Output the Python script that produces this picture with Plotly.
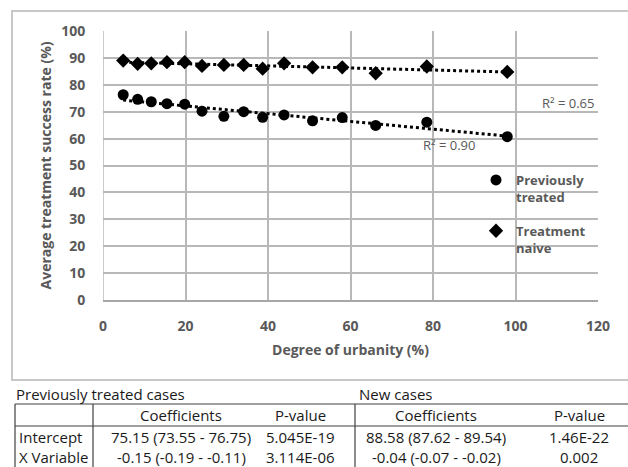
import numpy as np
import plotly.graph_objects as go

# ---------------- data ----------------
urbanity = [4.9, 8.4, 11.7, 15.5, 19.8, 24.0, 29.3, 34.1, 38.7, 43.9, 50.8, 58.0, 66.1, 78.5, 98.0]
prev_treated = [76.3, 74.6, 73.7, 73.0, 72.8, 70.2, 68.3, 70.0, 67.9, 68.8, 66.6, 67.8, 64.9, 66.1, 60.7]
treat_naive = [89.0, 87.8, 88.0, 88.4, 88.4, 87.0, 87.4, 87.4, 86.0, 88.0, 86.5, 86.5, 84.3, 86.8, 84.8]
series_names = ["Previously<br>treated", "Treatment<br>naive"]
r2_labels = ["R² = 0.90", "R² = 0.65"]

table_titles = ["Previously treated cases", "New cases"]
table_header = ["", "Coefficients", "P-value", "Coefficients", "P-value"]
row_labels = ["Intercept", "X Variable"]
prev_coef = ["75.15 (73.55 - 76.75)", "-0.15 (-0.19 - -0.11)"]
prev_p = ["5.045E-19", "3.114E-06"]
new_coef = ["88.58 (87.62 - 89.54)", "-0.04 (-0.07 - -0.02)"]
new_p = ["1.46E-22", "0.002"]

# ---------------- layout geometry ----------------
W, H = 628, 467
ML, MR, MT, MB = 103, 30, 31, 167
PW, PH = W - ML - MR, H - MT - MB


def px_x(px):
    return (px - ML) / PW


def px_y(py):
    return (H - MB - py) / PH


GRAY = "#595959"
GRID = "#b8b8b8"
FONT = "Open Sans"

fig = go.Figure()

x_arr = np.array(urbanity)
for ys, sym, name in [(prev_treated, "circle", series_names[0]),
                      (treat_naive, "diamond", series_names[1])]:
    slope, intercept = np.polyfit(x_arr, np.array(ys), 1)
    xs = [x_arr.min(), x_arr.max()]
    fig.add_trace(go.Scatter(
        x=xs, y=[intercept + slope * v for v in xs], mode="lines",
        line=dict(color="black", width=3, dash="dot"),
        showlegend=False, hoverinfo="skip"))
    fig.add_trace(go.Scatter(
        x=urbanity, y=ys, mode="markers", name=name,
        legendgroup=name,
        marker=dict(symbol=sym, color="black", size=11,
                    line=dict(width=0))))

# R² labels
fig.add_annotation(x=83.8, y=57.6, text=r2_labels[0], showarrow=False,
                   xanchor="center", yanchor="middle",
                   font=dict(family=FONT, size=13, color=GRAY))
fig.add_annotation(x=112.8, y=73.2, text=r2_labels[1], showarrow=False,
                   xanchor="center", yanchor="middle",
                   font=dict(family=FONT, size=13, color=GRAY))

fig.update_xaxes(range=[0, 120], dtick=20, tick0=0,
                 showgrid=True, gridcolor=GRID, gridwidth=1.5,
                 zeroline=False, showline=True, linecolor="#a6a6a6", linewidth=1.5,
                 ticks="outside", ticklen=12, tickcolor="rgba(0,0,0,0)",
                 tickfont=dict(family=FONT, size=14, color=GRAY, weight="bold"),
                 title=dict(text="Degree of urbanity (%)", standoff=12,
                            font=dict(family=FONT, size=14, color=GRAY, weight="bold")))
fig.update_yaxes(range=[0, 100], dtick=10, tick0=0,
                 showgrid=True, gridcolor=GRID, gridwidth=1.5,
                 zeroline=False, showline=False,
                 ticks="outside", ticklen=14, tickcolor="rgba(0,0,0,0)",
                 tickfont=dict(family=FONT, size=14, color=GRAY, weight="bold"),
                 title=dict(text="Average treatment success rate (%)", standoff=6,
                            font=dict(family=FONT, size=14, color=GRAY, weight="bold")))

# vertical gridline at 0
fig.add_shape(type="line", xref="x", yref="y", x0=0, x1=0, y0=0, y1=100,
              line=dict(color=GRID, width=1.5))

# chart outer frame
fig.add_shape(type="rect", xref="paper", yref="paper",
              x0=px_x(12), x1=px_x(640), y0=px_y(380), y1=px_y(11),
              line=dict(color="#c8c8c8", width=2))

# ---------------- table ----------------
TLINE = dict(color="#404040", width=1.2)
fig.add_shape(type="line", xref="paper", yref="paper", x0=px_x(15), x1=px_x(640),
              y0=px_y(404), y1=px_y(404), line=TLINE)
fig.add_shape(type="line", xref="paper", yref="paper", x0=px_x(15), x1=px_x(640),
              y0=px_y(426), y1=px_y(426), line=TLINE)
for vx in [15, 93, 355]:
    fig.add_shape(type="line", xref="paper", yref="paper", x0=px_x(vx), x1=px_x(vx),
                  y0=px_y(404), y1=px_y(475), line=TLINE)

TFONT = dict(family=FONT, size=15, color="#1a1a1a")


def cell(px, py, text, anchor="center"):
    fig.add_annotation(xref="paper", yref="paper", x=px_x(px), y=px_y(py), text=text,
                       xanchor=anchor, yanchor="middle", showarrow=False, font=TFONT)


cell(14, 394, table_titles[0], "left")
cell(357, 394, table_titles[1], "left")

col_centers = [17, 181, 300, 436, 579]
header_y = 415
row_ys = [437, 457]
for cx, txt in zip(col_centers, table_header):
    if txt:
        cell(cx, header_y, txt)
for i, ry in enumerate(row_ys):
    cell(col_centers[0], ry, row_labels[i], "left")
    for cx, col in zip(col_centers[1:], [prev_coef, prev_p, new_coef, new_p]):
        cell(cx, ry, col[i])

fig.update_layout(
    width=W, height=H,
    margin=dict(l=ML, r=MR, t=MT, b=MB, autoexpand=False),
    paper_bgcolor="white", plot_bgcolor="white",
    showlegend=True,
    legend=dict(x=px_x(476), y=px_y(165), xanchor="left", yanchor="top",
                bgcolor="rgba(0,0,0,0)", font=dict(family=FONT, size=13, color=GRAY, weight="bold"),
                itemwidth=30, valign="top", tracegroupgap=14, traceorder="grouped"),
)

fig.write_html("out.html")
